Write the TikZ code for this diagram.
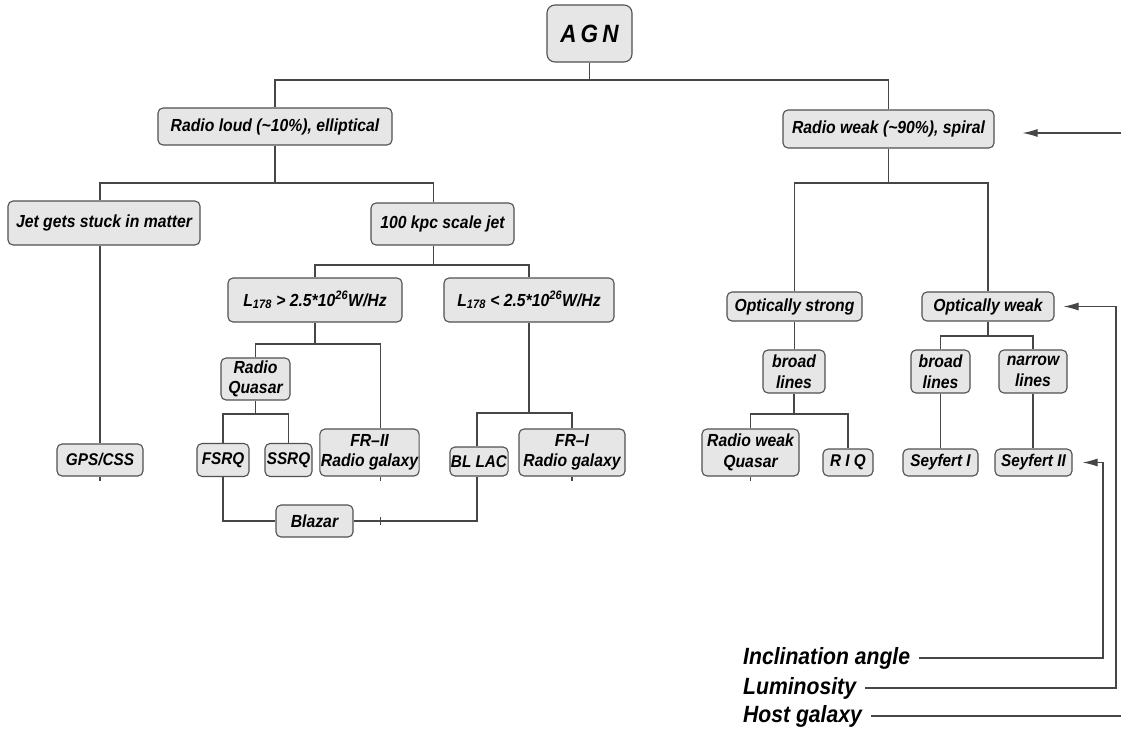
\documentclass[tikz,border=0pt]{standalone}
\usepackage{fontspec}
\setmainfont{Liberation Sans}[FakeStretch=0.9]
\usetikzlibrary{arrows.meta}
\definecolor{boxfill}{RGB}{230,230,230}
\definecolor{boxline}{RGB}{80,80,80}
\definecolor{lineclr}{RGB}{70,70,70}
\newcommand\boxfont{\fontsize{17.5}{20.5}\selectfont\bfseries\itshape}
\newcommand\smallboxfont{\fontsize{17}{19}\selectfont\bfseries\itshape}
\newcommand\legfont{\fontsize{23.5}{26}\selectfont\bfseries\itshape}
\tikzset{
  box/.style={draw=boxline, fill=boxfill, rounded corners=5pt, line width=1.1pt,
    align=center, inner sep=1pt, font=\boxfont},
  sbox/.style={box, font=\smallboxfont},
  conn/.style={draw=lineclr, line width=1.1pt},
  arr/.style={conn, -{Latex[length=15pt,width=8pt]}},
  legend/.style={anchor=west, inner sep=0pt, font=\legfont},
}
\begin{document}
\begin{tikzpicture}[x=1pt,y=-1pt]
\useasboundingbox (0,0) rectangle (1121,731);
% nodes
\node[box, rounded corners=8pt, minimum width=85, minimum height=57, font=\fontsize{25}{27}\selectfont\bfseries\itshape] (agn) at (589.5,33.5) {A\,G\,N};
\node[box, minimum width=234, minimum height=37] (rl) at (275,126.5) {Radio loud (\textasciitilde10\%), elliptical};
\node[box, minimum width=211, minimum height=38] (rw) at (888.5,129) {Radio weak (\textasciitilde90\%), spiral};
\node[box, minimum width=192, minimum height=44] (jet) at (104,223) {Jet gets stuck in matter};
\node[box, minimum width=143, minimum height=42] (kpc) at (442.5,224) {100 kpc scale jet};
\node[box, minimum width=174, minimum height=44] (lgt) at (315,300) {L\textsubscript{178} > 2.5*10\textsuperscript{26}W/Hz};
\node[box, minimum width=170, minimum height=44] (llt) at (529,300) {L\textsubscript{178} < 2.5*10\textsuperscript{26}W/Hz};
\node[box, minimum width=69, minimum height=42] (rq) at (255.5,379) {Radio\\Quasar};
\node[sbox, minimum width=86, minimum height=32] (gps) at (100,460) {GPS/CSS};
\node[sbox, minimum width=52, minimum height=33] (fsrq) at (223,460) {FSRQ};
\node[sbox, minimum width=47, minimum height=33] (ssrq) at (288.5,460) {SSRQ};
\node[box, minimum width=79, minimum height=47] (fr2) at (369.5,452.5) {FR–II\\Radio galaxy};
\node[sbox, minimum width=58, minimum height=29] (bllac) at (479,461.5) {BL LAC};
\node[box, minimum width=106, minimum height=47] (fr1) at (572,452.5) {FR–I\\Radio galaxy};
\node[box, minimum width=77, minimum height=32] (blazar) at (314.5,521) {Blazar};
\node[box, minimum width=135, minimum height=29] (os) at (794.5,306.5) {Optically strong};
\node[box, minimum width=132, minimum height=29] (ow) at (988,306.5) {Optically weak};
\node[box, minimum width=62, minimum height=43] (bl1) at (794,371.5) {broad\\lines};
\node[box, minimum width=59, minimum height=43] (bl2) at (940.5,371.5) {broad\\lines};
\node[box, minimum width=68, minimum height=43] (nl) at (1033,371.5) {narrow\\lines};
\node[box, minimum width=97, minimum height=47] (rwq) at (750.5,452.5) {Radio weak\\Quasar};
\node[sbox, minimum width=50, minimum height=27] (riq) at (848,462.5) {R I Q};
\node[sbox, minimum width=75, minimum height=27] (s1) at (940.5,462.5) {Seyfert I};
\node[sbox, minimum width=77, minimum height=27] (s2) at (1033.5,462.5) {Seyfert II};
\node[legend] (incl) at (743,658) {Inclination angle};
\node[legend] (lum) at (743,688) {Luminosity};
\node[legend] (host) at (743,716) {Host galaxy};
% helper coordinates
\coordinate (y80) at (0,80);
\coordinate (y183) at (0,183);
\coordinate (y265) at (0,265);
\coordinate (y344) at (0,344);
\coordinate (y414) at (0,414);
\coordinate (y413) at (0,413);
\coordinate (y336) at (0,336);
\coordinate (kpcN) at ([xshift=-9pt]kpc.north);
\coordinate (kpcS) at ([xshift=-9pt]kpc.south);
\coordinate (fr2N) at ([xshift=11pt]fr2.north);
\coordinate (vI) at (1103,0);
\coordinate (vL) at (1116,0);
\coordinate (edge) at (1121,0);
% tree connectors
\draw[conn] (agn.south) -- (agn.south |- y80);
\draw[conn] (rl.north) -- (rl.north |- y80) -- (rw.north |- y80) -- (rw.north);
\draw[conn] (rl.south) -- (rl.south |- y183);
\draw[conn] (gps.north |- jet.north) -- (gps.north |- y183) -- (kpcN |- y183) -- (kpcN);
\draw[conn] (gps.north |- jet.south) -- (gps.north);
\draw[conn] (kpcS) -- (kpcS |- y265);
\draw[conn] (lgt.north) -- (lgt.north |- y265) -- (llt.north |- y265) -- (llt.north);
\draw[conn] (lgt.south) -- (lgt.south |- y344);
\draw[conn] (rq.north) -- (rq.north |- y344) -- (fr2N |- y344) -- (fr2N);
\draw[conn] (rq.south) -- (rq.south |- y414);
\draw[conn] (fsrq.north) -- (fsrq.north |- y414) -- (ssrq.north |- y414) -- (ssrq.north);
\draw[conn] (llt.south) -- (llt.south |- y413);
\draw[conn] ([xshift=-2pt]bllac.north) -- ([xshift=-2pt]bllac.north |- y413) -- (fr1.north |- y413) -- (fr1.north);
\draw[conn] (fsrq.south) |- (blazar.west);
\draw[conn] ([xshift=-2pt]bllac.south) |- (blazar.east);
\draw[conn] (fr2N |- blazar.east) ++(0,-4) -- ++(0,8);
\draw[conn] (gps.south) -- ++(0,4);
\draw[conn] ([xshift=11pt]fr2.south) -- ++(0,4);
\draw[conn] (fr1.south) -- ++(0,4);
\draw[conn] (rwq.south) -- ++(0,4);
% right tree
\draw[conn] (rw.south) -- (rw.south |- y183);
\draw[conn] (os.north) -- (os.north |- y183) -- (ow.north |- y183) -- (ow.north);
\draw[conn] (os.south) -- (os.south |- bl1.north);
\draw[conn] (bl1.south) -- (bl1.south |- y414);
\draw[conn] (rwq.north) -- (rwq.north |- y414) -- (riq.north |- y414) -- (riq.north);
\draw[conn] (ow.south) -- (ow.south |- y336);
\draw[conn] (bl2.north) -- (bl2.north |- y336) -- (nl.north |- y336) -- (nl.north);
\draw[conn] (bl2.south) -- (s1.north);
\draw[conn] (nl.south) -- (nl.south |- s2.north);
% legend arrows
\draw[arr] ([xshift=9pt]incl.east) -| (vI |- s2.east) -- ([xshift=10pt]s2.east);
\draw[arr] ([xshift=9pt]lum.east) -| (vL |- ow.east) -- ([xshift=9pt]ow.east);
\draw[conn] ([xshift=9pt]host.east) -- (host.east -| edge);
\draw[arr] ([yshift=-4pt]edge |- rw.east) -- ([xshift=28pt,yshift=-4pt]rw.east);
\end{tikzpicture}
\end{document}
